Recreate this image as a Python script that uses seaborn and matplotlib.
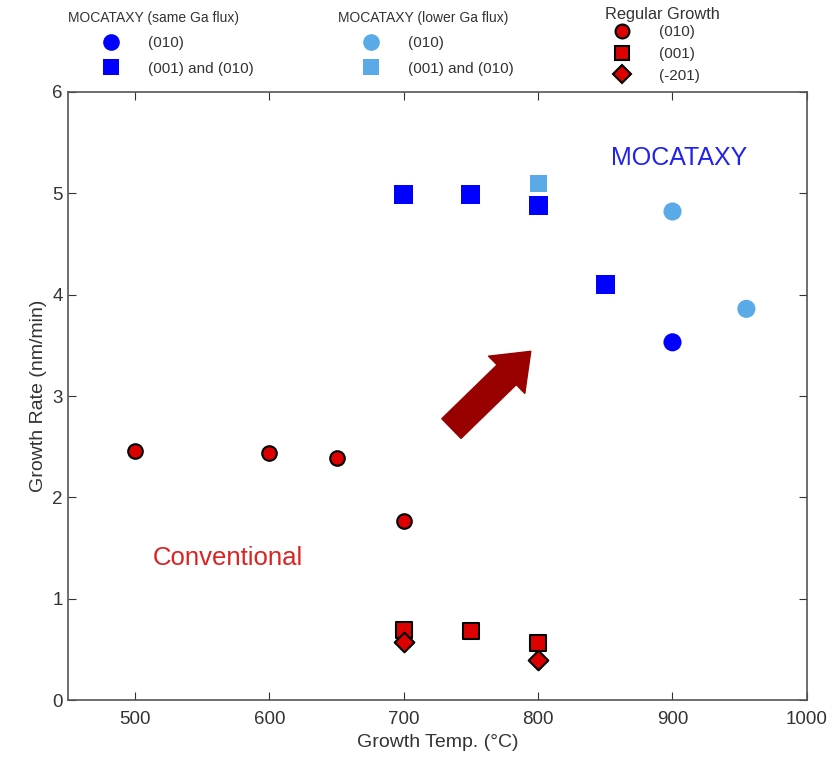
import seaborn as sns
import pandas as pd
import matplotlib.pyplot as plt
from matplotlib.lines import Line2D

# data
same_010_t = [900]
same_010_r = [3.53]
same_001_t = [700, 750, 800, 850]
same_001_r = [4.99, 4.99, 4.88, 4.10]

low_010_t = [900, 955]
low_010_r = [4.82, 3.86]
low_001_t = [800]
low_001_r = [5.10]

reg_010_t = [500, 600, 650, 700]
reg_010_r = [2.46, 2.44, 2.39, 1.77]
reg_001_t = [700, 750, 800]
reg_001_r = [0.69, 0.68, 0.56]
reg_201_t = [700, 800]
reg_201_r = [0.57, 0.40]

blue = '#0000FF'
light = '#5AAAE8'
red = '#DD0000'

sns.set_style('white')
plt.rcParams['font.family'] = ['Liberation Sans', 'DejaVu Sans']

fig = plt.figure(figsize=(8.37, 7.72), dpi=100)
ax = fig.add_axes([0.081, 0.093, 0.883, 0.788])

groups = [
    (same_001_t, same_001_r, 's', blue, 'none', 190),
    (same_010_t, same_010_r, 'o', blue, 'none', 170),
    (low_001_t, low_001_r, 's', light, 'none', 150),
    (low_010_t, low_010_r, 'o', light, 'none', 170),
    (reg_010_t, reg_010_r, 'o', red, 'black', 110),
    (reg_001_t, reg_001_r, 's', red, 'black', 120),
    (reg_201_t, reg_201_r, 'D', red, 'black', 100),
]
for t, r, m, c, ec, s in groups:
    df = pd.DataFrame({'Temp': t, 'Rate': r})
    sns.scatterplot(data=df, x='Temp', y='Rate', marker=m, color=c,
                    edgecolor=ec, linewidth=1.5 if ec != 'none' else 0,
                    s=s, ax=ax, legend=False, zorder=3)

ax.set_xlim(450, 1000)
ax.set_ylim(0, 6)
ax.set_xticks([500, 600, 700, 800, 900, 1000])
ax.set_yticks([0, 1, 2, 3, 4, 5, 6])
ax.tick_params(direction='in', length=6, labelsize=13.5, colors='#333333',
               top=True, right=True, bottom=True, left=True)
ax.tick_params(axis='x', pad=8)
for sp in ax.spines.values():
    sp.set_color('#555555')
    sp.set_linewidth(1.2)
ax.set_xlabel('Growth Temp. (°C)', fontsize=14, color='#333333')
ax.set_ylabel('Growth Rate (nm/min)', fontsize=14, color='#333333')

ax.text(905, 5.35, 'MOCATAXY', color='#2222EE', fontsize=18,
        ha='center', va='center')
ax.text(569, 1.40, 'Conventional', color='#DD2222', fontsize=18.5,
        ha='center', va='center')

ax.annotate('', xy=(796, 3.46), xytext=(734, 2.66),
            arrowprops=dict(arrowstyle='simple,head_length=1.1,head_width=1.7,tail_width=0.9',
                            color='#990000', mutation_scale=22))

def handle(m, c, ec, ms):
    return Line2D([], [], linestyle='none', marker=m, markerfacecolor=c,
                  markeredgecolor=ec, markeredgewidth=1.5 if ec != 'none' else 0,
                  markersize=ms)

# legend titles as plain text, left aligned like the original
fig.text(68 / 837, 1 - 18 / 772, 'MOCATAXY (same Ga flux)', fontsize=10,
         color='#333333', va='center', ha='left')
fig.text(338 / 837, 1 - 18 / 772, 'MOCATAXY (lower Ga flux)', fontsize=10,
         color='#333333', va='center', ha='left')
fig.text(605 / 837, 1 - 15 / 772, 'Regular Growth', fontsize=11.8,
         color='#333333', va='center', ha='left')

leg_kw = dict(frameon=False, fontsize=11, loc='upper left',
              handletextpad=1.4, labelspacing=0.75, borderaxespad=0)
l1 = fig.legend([handle('o', blue, 'none', 12), handle('s', blue, 'none', 12)],
                ['(010)', '(001) and (010)'],
                bbox_to_anchor=(0.1075, 0.961), **leg_kw)
l2 = fig.legend([handle('o', light, 'none', 12), handle('s', light, 'none', 11)],
                ['(010)', '(001) and (010)'],
                bbox_to_anchor=(0.418, 0.961), **leg_kw)
kw3 = dict(leg_kw)
kw3['labelspacing'] = 0.5
l3 = fig.legend([handle('o', red, 'black', 10), handle('s', red, 'black', 10),
                 handle('D', red, 'black', 9)],
                ['(010)', '(001)', '(-201)'],
                bbox_to_anchor=(0.718, 0.975), **kw3)
for lg in (l1, l2, l3):
    for tx in lg.get_texts():
        tx.set_color('#333333')

fig.savefig('out.png', dpi=100)
